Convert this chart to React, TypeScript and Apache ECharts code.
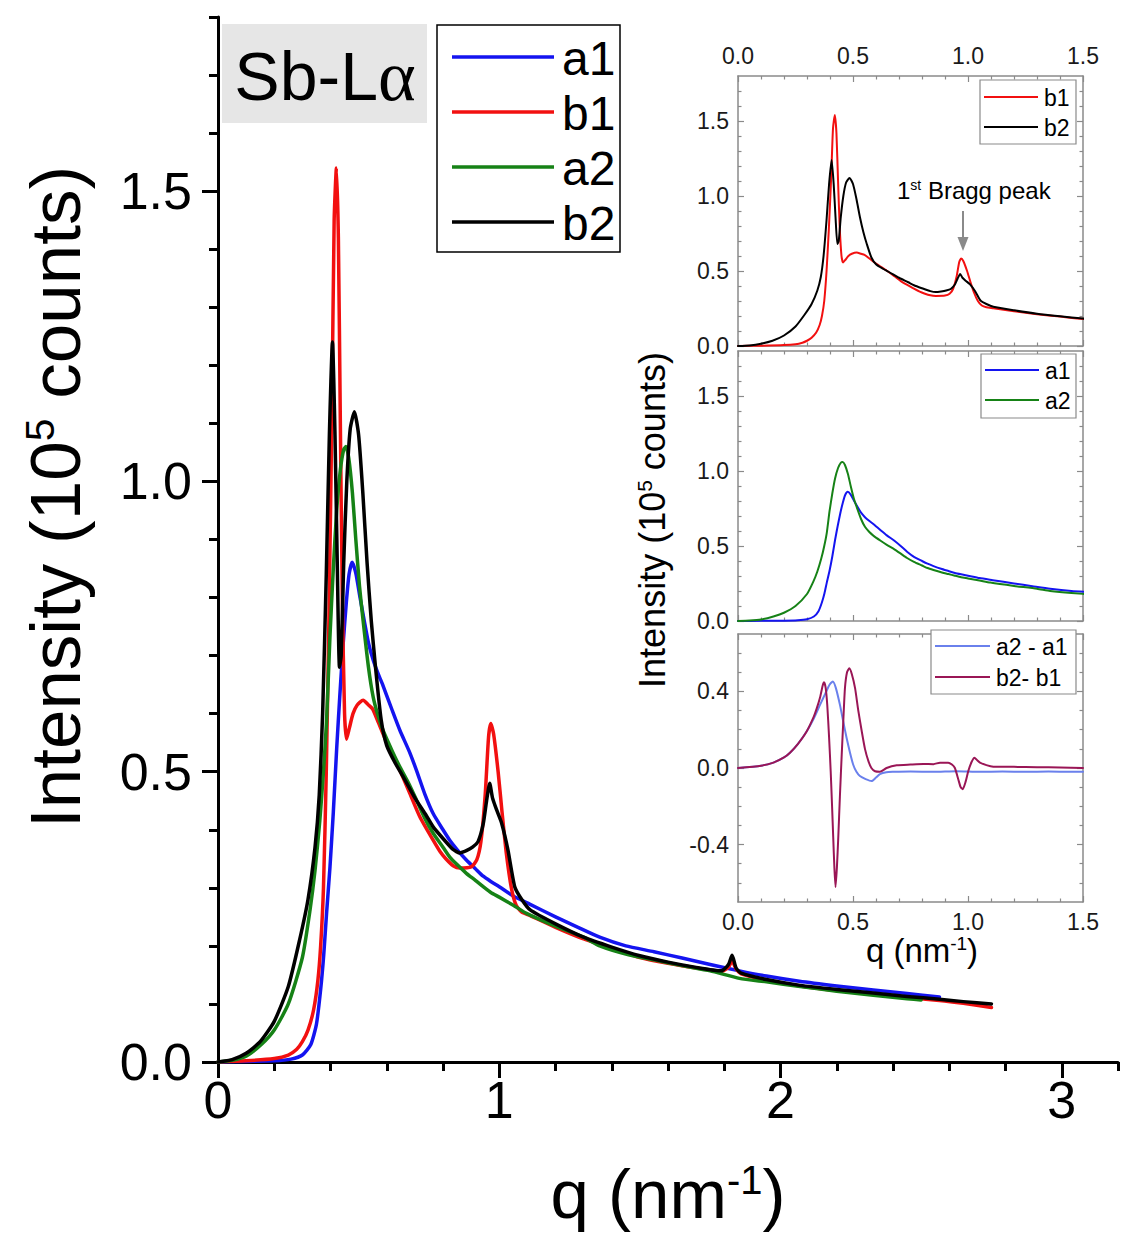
import React, { useEffect, useRef } from "react";
import * as echarts from "echarts";

const FONT = '"Liberation Sans", Arial, sans-serif';

// ---------- data (q in nm^-1, intensity in 10^5 counts) ----------
const seriesNames = ["a1", "b1", "a2", "b2"];
const seriesColors = ["#1414f0", "#f21010", "#168216", "#000000"];

const a1: number[][] = [
  [0, 0], [0.1, 0.001], [0.2, 0.002], [0.26, 0.005], [0.3, 0.012], [0.33, 0.03], [0.35, 0.065],
  [0.365, 0.125], [0.376, 0.185], [0.386, 0.256], [0.398, 0.335], [0.41, 0.43], [0.422, 0.54],
  [0.433, 0.63], [0.445, 0.72], [0.456, 0.79], [0.466, 0.84], [0.477, 0.861], [0.49, 0.842],
  [0.505, 0.8], [0.52, 0.76], [0.535, 0.722], [0.552, 0.692], [0.57, 0.668], [0.587, 0.648],
  [0.62, 0.605], [0.647, 0.571], [0.68, 0.535], [0.706, 0.502], [0.735, 0.462], [0.765, 0.428],
  [0.8, 0.4], [0.824, 0.382], [0.85, 0.366], [0.883, 0.348], [0.915, 0.333], [0.943, 0.32],
  [0.97, 0.311], [1.0, 0.302], [1.05, 0.286], [1.108, 0.272], [1.2, 0.25], [1.28, 0.232],
  [1.357, 0.215], [1.45, 0.2], [1.55, 0.19], [1.65, 0.179], [1.75, 0.168], [1.854, 0.157],
  [1.95, 0.148], [2.067, 0.139], [2.2, 0.131], [2.33, 0.124], [2.45, 0.118], [2.565, 0.112],
];

const b1: number[][] = [
  [0, 0], [0.1, 0.002], [0.2, 0.006], [0.25, 0.012], [0.28, 0.022], [0.3, 0.035], [0.32, 0.055],
  [0.34, 0.09], [0.355, 0.14], [0.365, 0.2], [0.375, 0.3], [0.385, 0.5], [0.395, 0.78],
  [0.405, 1.12], [0.413, 1.45], [0.421, 1.54], [0.428, 1.42], [0.435, 1.1], [0.442, 0.8],
  [0.45, 0.6], [0.457, 0.556], [0.467, 0.575], [0.48, 0.6], [0.495, 0.615], [0.516, 0.623],
  [0.535, 0.615], [0.55, 0.608], [0.57, 0.585], [0.6, 0.55], [0.647, 0.502], [0.68, 0.465],
  [0.718, 0.422], [0.765, 0.382], [0.79, 0.362], [0.81, 0.35], [0.836, 0.338], [0.86, 0.334],
  [0.9, 0.336], [0.92, 0.348], [0.935, 0.38], [0.95, 0.46], [0.962, 0.56], [0.97, 0.583],
  [0.98, 0.565], [0.996, 0.5], [1.01, 0.43], [1.025, 0.36], [1.043, 0.3], [1.06, 0.27],
  [1.08, 0.258], [1.11, 0.252], [1.2, 0.232], [1.3, 0.212], [1.4, 0.196], [1.5, 0.18],
  [1.6, 0.17], [1.7, 0.162], [1.79, 0.156], [1.815, 0.163], [1.828, 0.174], [1.842, 0.16],
  [1.86, 0.152], [1.95, 0.141], [2.07, 0.131], [2.2, 0.123], [2.33, 0.117], [2.45, 0.111],
  [2.565, 0.106], [2.65, 0.101], [2.75, 0.094],
];

const a2: number[][] = [
  [0, 0], [0.05, 0.003], [0.1, 0.01], [0.154, 0.03], [0.2, 0.055], [0.25, 0.1], [0.3, 0.18],
  [0.327, 0.261], [0.345, 0.33], [0.362, 0.416], [0.375, 0.5], [0.386, 0.588], [0.398, 0.732],
  [0.41, 0.85], [0.422, 0.95], [0.435, 1.02], [0.447, 1.055], [0.455, 1.06], [0.465, 1.04],
  [0.478, 0.98], [0.49, 0.9], [0.503, 0.82], [0.516, 0.76], [0.535, 0.68], [0.552, 0.628],
  [0.57, 0.595], [0.587, 0.571], [0.62, 0.535], [0.647, 0.508], [0.68, 0.478], [0.706, 0.451],
  [0.735, 0.42], [0.765, 0.394], [0.8, 0.37], [0.824, 0.353], [0.85, 0.34], [0.883, 0.325],
  [0.915, 0.313], [0.943, 0.302], [0.97, 0.292], [1.0, 0.284], [1.05, 0.27], [1.097, 0.256],
  [1.2, 0.234], [1.3, 0.215], [1.357, 0.2], [1.45, 0.186], [1.55, 0.176], [1.65, 0.166],
  [1.75, 0.157], [1.854, 0.144], [1.95, 0.138], [2.07, 0.13], [2.2, 0.122], [2.33, 0.115],
  [2.45, 0.109], [2.5, 0.107],
];

const b2: number[][] = [
  [0, 0], [0.05, 0.004], [0.1, 0.015], [0.15, 0.035], [0.2, 0.07], [0.25, 0.13], [0.29, 0.21],
  [0.32, 0.28], [0.345, 0.37], [0.36, 0.46], [0.372, 0.6], [0.385, 0.84], [0.396, 1.08],
  [0.407, 1.24], [0.416, 1.08], [0.424, 0.86], [0.432, 0.68], [0.438, 0.7], [0.447, 0.86],
  [0.458, 1.0], [0.47, 1.09], [0.485, 1.12], [0.5, 1.08], [0.515, 0.98], [0.53, 0.86],
  [0.545, 0.76], [0.56, 0.68], [0.58, 0.59], [0.6, 0.545], [0.63, 0.515], [0.66, 0.49],
  [0.7, 0.455], [0.74, 0.425], [0.765, 0.405], [0.8, 0.385], [0.836, 0.366], [0.86, 0.36],
  [0.883, 0.364], [0.905, 0.37], [0.925, 0.38], [0.943, 0.41], [0.955, 0.45], [0.966, 0.48],
  [0.976, 0.455], [0.99, 0.435], [1.008, 0.412], [1.031, 0.365], [1.055, 0.302], [1.08, 0.28],
  [1.11, 0.262], [1.2, 0.238], [1.3, 0.215], [1.4, 0.198], [1.5, 0.183], [1.6, 0.172],
  [1.7, 0.163], [1.79, 0.157], [1.815, 0.168], [1.828, 0.184], [1.842, 0.162], [1.86, 0.153],
  [1.95, 0.142], [2.07, 0.132], [2.2, 0.125], [2.33, 0.119], [2.45, 0.113], [2.565, 0.108],
  [2.65, 0.104], [2.75, 0.1],
];

const diffNames = ["a2 - a1", "b2- b1"];
const diffColors = ["#6a80ec", "#9a1656"];

const a2a1: number[][] = [
  [0, 0], [0.1, 0.012], [0.154, 0.028], [0.2, 0.055], [0.226, 0.08], [0.26, 0.125],
  [0.299, 0.192], [0.33, 0.26], [0.357, 0.331], [0.38, 0.39], [0.398, 0.435], [0.412, 0.452],
  [0.425, 0.42], [0.443, 0.331], [0.458, 0.24], [0.472, 0.158], [0.487, 0.08], [0.501, 0.017],
  [0.515, -0.02], [0.53, -0.042], [0.555, -0.058], [0.581, -0.068], [0.6, -0.05], [0.617, -0.032],
  [0.645, -0.022], [0.675, -0.02], [0.75, -0.018], [0.85, -0.02], [0.95, -0.017], [1.05, -0.02],
  [1.15, -0.018], [1.25, -0.02], [1.35, -0.018], [1.45, -0.02], [1.5, -0.02],
];

const b2b1: number[][] = [
  [0, 0], [0.1, 0.012], [0.154, 0.028], [0.2, 0.055], [0.226, 0.08], [0.26, 0.125],
  [0.299, 0.192], [0.33, 0.27], [0.342, 0.31], [0.357, 0.37], [0.368, 0.43], [0.374, 0.448],
  [0.381, 0.42], [0.388, 0.331], [0.396, 0.16], [0.403, -0.017], [0.409, -0.2], [0.414, -0.362],
  [0.419, -0.52], [0.424, -0.622], [0.43, -0.52], [0.436, -0.362], [0.443, -0.15], [0.451, 0.071],
  [0.458, 0.25], [0.465, 0.417], [0.474, 0.5], [0.484, 0.521], [0.495, 0.49], [0.509, 0.417],
  [0.523, 0.3], [0.538, 0.192], [0.552, 0.1], [0.567, 0.036], [0.58, 0.0], [0.596, -0.017],
  [0.617, -0.02], [0.646, 0], [0.69, 0.014], [0.75, 0.018], [0.806, 0.021], [0.85, 0.02],
  [0.878, 0.028], [0.914, 0.028], [0.93, 0.018], [0.943, 0], [0.958, -0.06], [0.968, -0.1],
  [0.977, -0.111], [0.99, -0.07], [1.001, -0.017], [1.015, 0.03], [1.028, 0.054], [1.04, 0.04],
  [1.052, 0.028], [1.08, 0.015], [1.11, 0.007], [1.2, 0.006], [1.3, 0.004], [1.4, 0.003],
  [1.5, 0.0],
];

// ---------- ticks ----------
const mainXTicks = [0, 1, 2, 3];
const mainXMinor = [0.2, 0.4, 0.6, 0.8, 1.2, 1.4, 1.6, 1.8, 2.2, 2.4, 2.6, 2.8, 3.2];
const mainYTicks = [0, 0.5, 1.0, 1.5];
const mainYMinor = [0.1, 0.2, 0.3, 0.4, 0.6, 0.7, 0.8, 0.9, 1.1, 1.2, 1.3, 1.4, 1.6, 1.7, 1.8];
const insetXTicks = [0, 0.5, 1.0, 1.5];
const insetXMinor = [0.1, 0.2, 0.3, 0.4, 0.6, 0.7, 0.8, 0.9, 1.1, 1.2, 1.3, 1.4];
const insetYTicks = [0, 0.5, 1.0, 1.5];
const insetYMinor = [0.1, 0.2, 0.3, 0.4, 0.6, 0.7, 0.8, 0.9, 1.1, 1.2, 1.3, 1.4, 1.6, 1.7];
const diffYTicks = [-0.4, 0, 0.4];
const diffYMinor = [-0.6, -0.5, -0.3, -0.2, -0.1, 0.1, 0.2, 0.3, 0.5, 0.6];

type AxP = {
  grid: number; pos: string; min: number; max: number; ticks: number[]; len: number;
  inside: boolean; color: string; lineW: number; tickW: number; showLine: boolean; label?: any;
};
function makeAxis(p: AxP) {
  return {
    type: "value",
    gridIndex: p.grid,
    position: p.pos,
    min: p.min,
    max: p.max,
    axisLine: { show: p.showLine, onZero: false, lineStyle: { color: p.color, width: p.lineW } },
    axisTick: {
      show: true, inside: p.inside, length: p.len, customValues: p.ticks,
      lineStyle: { color: p.color, width: p.tickW },
    },
    axisLabel: p.label ? { show: true, customValues: p.ticks, ...p.label } : { show: false },
    splitLine: { show: false },
    minorTick: { show: false },
  };
}

const fmt1 = (v: number) => (Math.abs(v) < 1e-9 ? "0.0" : v.toFixed(1));

function buildOption() {
  const xAxis: any[] = [];
  const yAxis: any[] = [];
  const M = "#000";
  const G = "#8a8a8a";
  // main
  xAxis.push(makeAxis({
    grid: 0, pos: "bottom", min: 0, max: 3.2, ticks: mainXTicks, len: 16, inside: false,
    color: M, lineW: 3, tickW: 3, showLine: true,
    label: { fontSize: 52, fontFamily: FONT, color: "#000", margin: 12, formatter: (v: number) => String(Math.round(v)) },
  }));
  xAxis.push(makeAxis({ grid: 0, pos: "bottom", min: 0, max: 3.2, ticks: mainXMinor, len: 9, inside: false, color: M, lineW: 3, tickW: 3, showLine: false }));
  yAxis.push(makeAxis({
    grid: 0, pos: "left", min: 0, max: 1.8, ticks: mainYTicks, len: 16, inside: false,
    color: M, lineW: 3, tickW: 3, showLine: true,
    label: { fontSize: 52, fontFamily: FONT, color: "#000", margin: 26, formatter: fmt1 },
  }));
  yAxis.push(makeAxis({ grid: 0, pos: "left", min: 0, max: 1.8, ticks: mainYMinor, len: 9, inside: false, color: M, lineW: 3, tickW: 3, showLine: false }));

  const insetLabel = { fontSize: 23, fontFamily: FONT, color: "#1a1a1a", formatter: fmt1 };
  const panels = [
    { min: 0, max: 1.8, maj: insetYTicks, mnr: insetYMinor },
    { min: 0, max: 1.8, maj: insetYTicks, mnr: insetYMinor },
    { min: -0.7, max: 0.7, maj: diffYTicks, mnr: diffYMinor },
  ];
  panels.forEach((pn, i) => {
    const g = i + 1;
    xAxis.push(makeAxis({ grid: g, pos: "bottom", min: 0, max: 1.5, ticks: insetXTicks, len: 6, inside: true, color: G, lineW: 1.5, tickW: 1.2, showLine: true, label: i === 2 ? { ...insetLabel, margin: 8 } : null }));
    xAxis.push(makeAxis({ grid: g, pos: "bottom", min: 0, max: 1.5, ticks: insetXMinor, len: 3.5, inside: true, color: G, lineW: 1.5, tickW: 1.2, showLine: false }));
    xAxis.push(makeAxis({ grid: g, pos: "top", min: 0, max: 1.5, ticks: insetXTicks, len: 6, inside: true, color: G, lineW: 1.5, tickW: 1.2, showLine: true, label: i === 0 ? { ...insetLabel, margin: 9 } : null }));
    xAxis.push(makeAxis({ grid: g, pos: "top", min: 0, max: 1.5, ticks: insetXMinor, len: 3.5, inside: true, color: G, lineW: 1.5, tickW: 1.2, showLine: false }));
    yAxis.push(makeAxis({ grid: g, pos: "left", min: pn.min, max: pn.max, ticks: pn.maj, len: 6, inside: true, color: G, lineW: 1.5, tickW: 1.2, showLine: true, label: { ...insetLabel, margin: 9 } }));
    yAxis.push(makeAxis({ grid: g, pos: "left", min: pn.min, max: pn.max, ticks: pn.mnr, len: 3.5, inside: true, color: G, lineW: 1.5, tickW: 1.2, showLine: false }));
    yAxis.push(makeAxis({ grid: g, pos: "right", min: pn.min, max: pn.max, ticks: pn.maj, len: 6, inside: true, color: G, lineW: 1.5, tickW: 1.2, showLine: true }));
    yAxis.push(makeAxis({ grid: g, pos: "right", min: pn.min, max: pn.max, ticks: pn.mnr, len: 3.5, inside: true, color: G, lineW: 1.5, tickW: 1.2, showLine: false }));
  });

  const mainData = [a1, b1, a2, b2];
  const line = (name: string, data: number[][], color: string, width: number, axis: number, z: number) => ({
    name, type: "line", data, xAxisIndex: axis, yAxisIndex: axis, symbol: "none", showSymbol: false,
    smooth: 0.2, lineStyle: { color, width, join: "round", cap: "round" }, itemStyle: { color },
    silent: true, z, clip: true,
  });
  const series: any[] = [];
  mainData.forEach((d, i) => series.push(line(seriesNames[i], d, seriesColors[i], 3.5, 0, 2 + i)));
  series.push(line("b1", b1, seriesColors[1], 2, 2, 2));
  series.push(line("b2", b2, seriesColors[3], 2, 2, 3));
  series.push(line("a1", a1, seriesColors[0], 2, 6, 2));
  series.push(line("a2", a2, seriesColors[2], 2, 6, 3));
  series.push(line(diffNames[0], a2a1, diffColors[0], 2, 10, 2));
  series.push(line(diffNames[1], b2b1, diffColors[1], 2, 10, 3));

  // ---------- graphics: labels, legends, annotation ----------
  const graphic: any[] = [];
  const txt = (x: number, y: number, text: string, size: number) => ({
    type: "text", x, y, z: 10,
    style: { text, fontSize: size, fontFamily: FONT, fill: "#000", align: "left", verticalAlign: "middle" },
  });
  // Sb-Lα box
  graphic.push({ type: "rect", z: 5, shape: { x: 222, y: 24, width: 205, height: 99 }, style: { fill: "#e6e6e6" } });
  graphic.push({
    type: "text", x: 325, y: 76, z: 10,
    style: {
      text: "{a|Sb-L}{g|α}", align: "center", verticalAlign: "middle",
      rich: { a: { fontSize: 68, fontFamily: FONT, fill: "#000" }, g: { fontSize: 72, fontFamily: '"Liberation Serif", serif', fill: "#000" } },
    },
  });
  // main legend
  graphic.push({ type: "rect", z: 5, shape: { x: 437, y: 25, width: 183, height: 227 }, style: { fill: "#fff", stroke: "#000", lineWidth: 1.5 } });
  seriesNames.forEach((n, i) => {
    const y = 57 + 55 * i;
    graphic.push({ type: "line", z: 10, shape: { x1: 452, y1: y, x2: 554, y2: y }, style: { stroke: seriesColors[i], lineWidth: 3.5 } });
    graphic.push(txt(562, y + 1, n, 48));
  });
  // inset legends
  const insetLegend = (x: number, y: number, w: number, h: number, names: string[], colors: string[], lx1: number, lx2: number, tx: number, rows: number[]) => {
    graphic.push({ type: "rect", z: 5, shape: { x, y, width: w, height: h }, style: { fill: "#fff", stroke: "#8a8a8a", lineWidth: 1.2 } });
    names.forEach((n, i) => {
      graphic.push({ type: "line", z: 10, shape: { x1: lx1, y1: rows[i], x2: lx2, y2: rows[i] }, style: { stroke: colors[i], lineWidth: 2 } });
      graphic.push(txt(tx, rows[i] + 1, n, 23));
    });
  };
  insetLegend(980, 80, 96, 64, ["b1", "b2"], [seriesColors[1], seriesColors[3]], 984, 1038, 1044, [97, 127]);
  insetLegend(981, 354, 95, 64, ["a1", "a2"], [seriesColors[0], seriesColors[2]], 985, 1039, 1045, [370, 400]);
  insetLegend(931, 630, 145, 64, diffNames, diffColors, 935, 990, 996, [646, 677]);

  // Bragg peak annotation
  graphic.push({
    type: "text", x: 897, y: 190, z: 10,
    style: {
      text: "{a|1}{s|st}{a| Bragg peak}", align: "left", verticalAlign: "middle",
      rich: { a: { fontSize: 24, fontFamily: FONT, fill: "#000" }, s: { fontSize: 14, fontFamily: FONT, fill: "#000", verticalAlign: "top" } },
    },
  });
  graphic.push({ type: "line", z: 10, shape: { x1: 963, y1: 211, x2: 963, y2: 240 }, style: { stroke: "#8a8a8a", lineWidth: 2 } });
  graphic.push({ type: "polygon", z: 10, shape: { points: [[957.5, 237], [968.5, 237], [963, 251]] }, style: { fill: "#8a8a8a" } });

  // axis titles
  graphic.push({
    type: "text", x: 668, y: 1194, z: 10,
    style: {
      text: "{a|q (nm}{s|-1}{a|)}", align: "center", verticalAlign: "middle",
      rich: { a: { fontSize: 69, fontFamily: FONT, fill: "#000" }, s: { fontSize: 40, fontFamily: FONT, fill: "#000", verticalAlign: "top" } },
    },
  });
  graphic.push({
    type: "text", x: 55, y: 497, z: 10, rotation: Math.PI / 2,
    style: {
      text: "{a|Intensity (10}{s|5}{a| counts)}", align: "center", verticalAlign: "middle",
      rich: { a: { fontSize: 71, fontFamily: FONT, fill: "#000" }, s: { fontSize: 41, fontFamily: FONT, fill: "#000", verticalAlign: "top" } },
    },
  });
  graphic.push({
    type: "text", x: 922, y: 950, z: 10,
    style: {
      text: "{a|q (nm}{s|-1}{a|)}", align: "center", verticalAlign: "middle",
      rich: { a: { fontSize: 33, fontFamily: FONT, fill: "#000" }, s: { fontSize: 19, fontFamily: FONT, fill: "#000", verticalAlign: "top" } },
    },
  });
  graphic.push({
    type: "text", x: 652, y: 520, z: 10, rotation: Math.PI / 2,
    style: {
      text: "{a|Intensity (10}{s|5}{a| counts)}", align: "center", verticalAlign: "middle",
      rich: { a: { fontSize: 36, fontFamily: FONT, fill: "#000" }, s: { fontSize: 21, fontFamily: FONT, fill: "#000", verticalAlign: "top" } },
    },
  });

  return {
    animation: false,
    backgroundColor: "#ffffff",
    textStyle: { fontFamily: FONT },
    grid: [
      { left: 218, top: 17, width: 900, height: 1045, outerBoundsMode: "none", containLabel: false },
      { left: 738, top: 76, width: 345, height: 270, outerBoundsMode: "none", containLabel: false },
      { left: 738, top: 351, width: 345, height: 270, outerBoundsMode: "none", containLabel: false },
      { left: 738, top: 634, width: 345, height: 268, outerBoundsMode: "none", containLabel: false },
    ],
    xAxis,
    yAxis,
    series,
    graphic,
  };
}

export default function App() {
  const ref = useRef<HTMLDivElement>(null);
  useEffect(() => {
    if (!ref.current) return;
    const chart = echarts.init(ref.current, null, { renderer: "svg" });
    chart.setOption(buildOption() as any);
    return () => chart.dispose();
  }, []);
  return (
    <div
      ref={ref}
      style={{ position: "absolute", left: 0, top: 0, width: 1123, height: 1234, background: "#fff" }}
    />
  );
}
